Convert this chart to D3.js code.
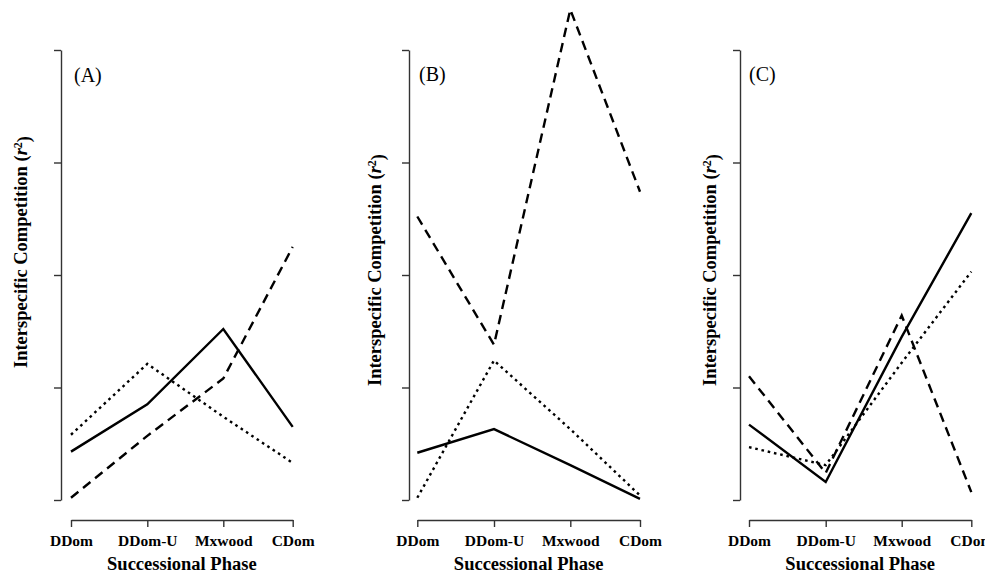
<!DOCTYPE html>
<html>
<head>
<meta charset="utf-8">
<script src="https://cdn.jsdelivr.net/npm/d3@7"></script>
<style>
  body { margin: 0; background: #fff; }
  svg { display: block; }
  text { font-family: "Liberation Serif", "Times New Roman", serif; fill: #000; }
</style>
</head>
<body>
<div class="chart"></div>
<script>
// successional phases on the x axis
const phases = ["DDom", "DDom-U", "Mxwood", "CDom"];
const panelLabels = ["(A)", "(B)", "(C)"];
const yTicks = [0, 0.1, 0.2, 0.3, 0.4];

// r2 values (axis has no labels, so units are relative)
const aSolid  = [0.043, 0.085, 0.152, 0.065];
const aDotted = [0.058, 0.121, 0.074, 0.033];
const aDashed = [0.002, 0.057, 0.108, 0.225];

const bSolid  = [0.042, 0.063, 0.031, 0.001];
const bDotted = [0.002, 0.124, 0.063, 0.004];
const bDashed = [0.252, 0.138, 0.436, 0.274];

const cSolid  = [0.067, 0.016, 0.145, 0.255];
const cDotted = [0.047, 0.031, 0.122, 0.203];
const cDashed = [0.110, 0.024, 0.164, 0.007];

const panelSeries = [
  [aSolid, aDotted, aDashed],
  [bSolid, bDotted, bDashed],
  [cSolid, cDotted, cDashed]
];

// layout of each panel
const panels = [
  {axisX: 61,  x0: 71,    steps: [0, 76.3, 152.3, 221.7], titleX: 27,  titleY: 252, labX: 74,  labY: 82},
  {axisX: 409, x0: 417.3, steps: [0, 76.7, 153, 222.7],   titleX: 381, titleY: 270, labX: 419, labY: 81},
  {axisX: 740, x0: 749,   steps: [0, 76.7, 152.7, 222.3], titleX: 716, titleY: 270, labX: 749, labY: 81}
];
const styles = [null, "2.6,3.8", "9.5,6"];

const svg = d3.select(".chart").append("svg")
  .attr("width", 985)
  .attr("height", 577);

const y = d3.scaleLinear().domain([0, 0.4]).range([500, 50]);

panels.forEach(function(p, k) {
  const x = d3.scaleOrdinal()
    .domain(phases)
    .range(p.steps.map(function(s) { return p.x0 + s; }));

  // y axis, ticks only
  svg.append("g")
    .attr("class", "axis y")
    .attr("transform", "translate(" + p.axisX + ",0)")
    .call(d3.axisLeft(y).tickValues(yTicks).tickFormat("").tickSize(7).tickSizeOuter(0));

  // x axis
  const xa = svg.append("g")
    .attr("class", "axis x")
    .attr("transform", "translate(0,520)")
    .call(d3.axisBottom(x).tickSize(7).tickSizeOuter(0));
  xa.selectAll("text")
    .attr("y", 26).attr("dy", 0)
    .style("font-size", "15.5px").style("font-weight", "bold");

  svg.selectAll(".axis path, .axis line")
    .attr("stroke", "#333").attr("stroke-width", 1.4);

  const line = d3.line()
    .x(function(d, i) { return x(phases[i]); })
    .y(function(d) { return y(d); });

  panelSeries[k].forEach(function(vals, j) {
    svg.append("path")
      .datum(vals)
      .attr("d", line)
      .attr("fill", "none")
      .attr("stroke", "#000")
      .attr("stroke-width", 2.4)
      .attr("stroke-dasharray", styles[j]);
  });

  svg.append("text")
    .attr("x", p.labX).attr("y", p.labY)
    .style("font-size", "20px")
    .text(panelLabels[k]);

  // x title
  svg.append("text")
    .attr("x", (p.x0 + p.x0 + p.steps[3]) / 2).attr("y", 570)
    .attr("text-anchor", "middle")
    .style("font-size", "18.5px").style("font-weight", "bold")
    .text("Successional Phase");

  // y title
  const yt = svg.append("text")
    .attr("transform", "translate(" + p.titleX + "," + p.titleY + ") rotate(-90)")
    .attr("text-anchor", "middle")
    .style("font-size", "18.5px").style("font-weight", "bold");
  yt.append("tspan").text("Interspecific Competition (");
  yt.append("tspan").style("font-style", "italic").text("r");
  yt.append("tspan").attr("dy", "-0.45em").style("font-size", "12px").text("2");
  yt.append("tspan").attr("dy", "0.45em").text(")");
});
</script>
</body>
</html>
